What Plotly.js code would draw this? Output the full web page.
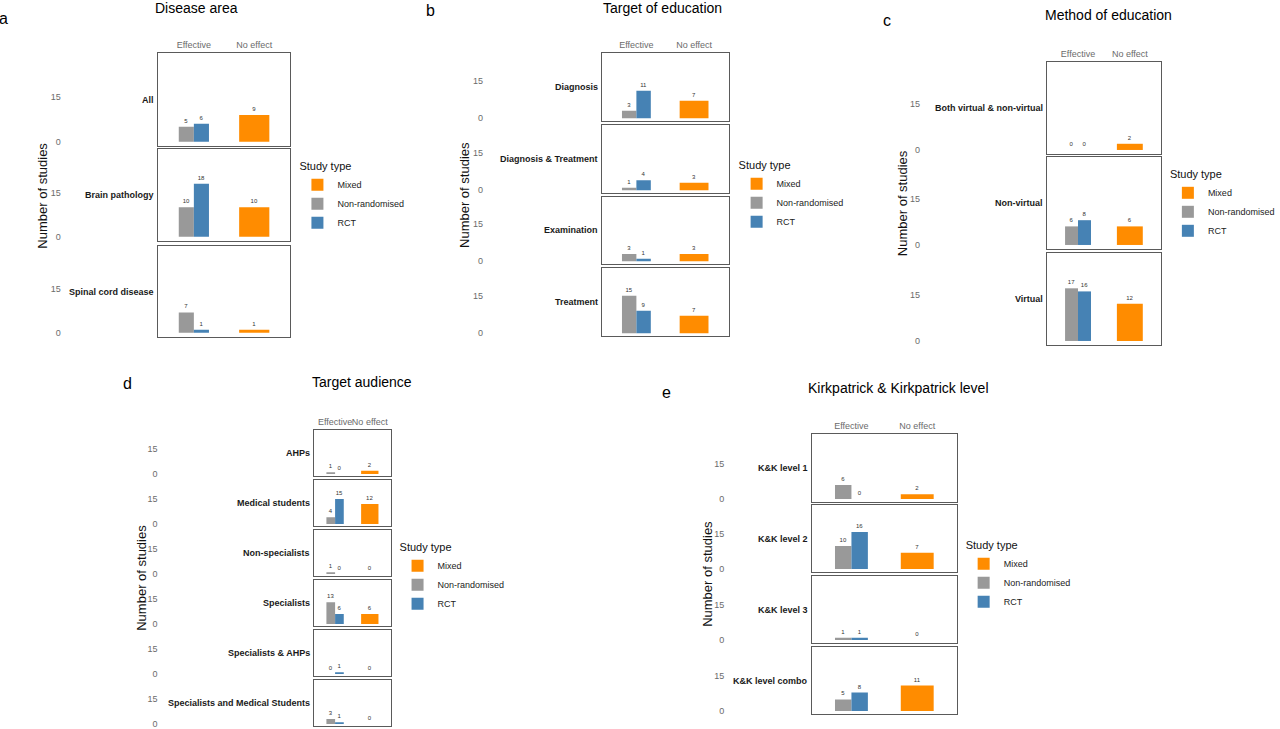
<!DOCTYPE html>
<html>
<head>
<meta charset="utf-8">
<script src="https://cdn.plot.ly/plotly-3.0.1.min.js"></script>
<style>html,body{margin:0;padding:0;background:#fff;}#chart{width:1280px;height:729px;}</style>
</head>
<body>
<div id="chart"></div>
<script>
// ---------- DATA ----------
const studyTypes = ['Mixed', 'Non-randomised', 'RCT'];
const outcomes = ['Effective', 'No effect'];
const yTickVals = [0, 15];
const yTickText = ['0', '15'];

// a: Disease area
const diseaseRows = ['All', 'Brain pathology', 'Spinal cord disease'];
const diseaseMixed = [9, 10, 1];
const diseaseNonRand = [5, 10, 7];
const diseaseRCT = [6, 18, 1];

// b: Target of education
const targetRows = ['Diagnosis', 'Diagnosis & Treatment', 'Examination', 'Treatment'];
const targetMixed = [7, 3, 3, 7];
const targetNonRand = [3, 1, 3, 15];
const targetRCT = [11, 4, 1, 9];

// c: Method of education
const methodRows = ['Both virtual & non-virtual', 'Non-virtual', 'Virtual'];
const methodMixed = [2, 6, 12];
const methodNonRand = [0, 6, 17];
const methodRCT = [0, 8, 16];

// d: Target audience
const audienceRows = ['AHPs', 'Medical students', 'Non-specialists', 'Specialists', 'Specialists & AHPs', 'Specialists and Medical Students'];
const audienceMixed = [2, 12, 0, 6, 0, 0];
const audienceNonRand = [1, 4, 1, 13, 0, 3];
const audienceRCT = [0, 15, 0, 6, 1, 1];

// e: Kirkpatrick & Kirkpatrick level
const kkRows = ['K&K level 1', 'K&K level 2', 'K&K level 3', 'K&K level combo'];
const kkMixed = [2, 7, 0, 11];
const kkNonRand = [6, 10, 1, 5];
const kkRCT = [0, 16, 1, 8];

// ---------- STYLE / LAYOUT GEOMETRY (pixels) ----------
const W = 1280, H = 729;
const FONT = 'Liberation Sans, Arial, Helvetica, sans-serif';
const colors = {'Mixed': '#FF8C00', 'Non-randomised': '#999999', 'RCT': '#4682B4'};

const panels = [
  {letter: 'a', title: 'Disease area', rows: diseaseRows, mixed: diseaseMixed, nonrand: diseaseNonRand, rct: diseaseRCT,
   box: [159, 293], facets: [[53, 146], [149, 241], [246, 337]], yr: [-1.45, 29.8], tickRight: 62,
   letterPos: [4, 19], titlePos: [198, 8], yTitlePos: [43, 196], legendPos: [310, 156]},
  {letter: 'b', title: 'Target of education', rows: targetRows, mixed: targetMixed, nonrand: targetNonRand, rct: targetRCT,
   box: [607, 735], facets: [[53, 121], [125, 193], [197, 264], [268, 336]], yr: [-1.1, 26.1], tickRight: 488,
   letterPos: [434, 10], titlePos: [668, 8], yTitlePos: [468, 195], legendPos: [753, 155]},
  {letter: 'c', title: 'Method of education', rows: methodRows, mixed: methodMixed, nonrand: methodNonRand, rct: methodRCT,
   box: [1056, 1171], facets: [[62, 154], [157, 249], [253, 345]], yr: [-1.3, 28.4], tickRight: 929,
   letterPos: [895, 21], titlePos: [1118, 15], yTitlePos: [910, 203], legendPos: [1188, 164]},
  {letter: 'd', title: 'Target audience', rows: audienceRows, mixed: audienceMixed, nonrand: audienceNonRand, rct: audienceRCT,
   box: [317, 394], facets: [[430, 476], [480, 526], [530, 576], [580, 626], [630, 676], [680, 726]], yr: [-1.2, 26.3], tickRight: 160,
   letterPos: [129, 383], titlePos: [365, 382], yTitlePos: [142, 578], legendPos: [411, 537]},
  {letter: 'e', title: 'Kirkpatrick & Kirkpatrick level', rows: kkRows, mixed: kkMixed, nonrand: kkNonRand, rct: kkRCT,
   box: [819, 965], facets: [[434, 502], [505, 572], [576, 643], [647, 714]], yr: [-1.3, 27.7], tickRight: 731,
   letterPos: [672, 392], titlePos: [906, 388], yTitlePos: [713, 574], legendPos: [982, 535]}
];

const px = v => v / W;
const py = v => 1 - v / H;

const data = [];
const layout = {
  width: W, height: H,
  margin: {l: 0, r: 0, t: 0, b: 0},
  paper_bgcolor: '#ffffff', plot_bgcolor: '#ffffff',
  barmode: 'overlay',
  hovermode: false,
  font: {family: FONT, color: '#222'},
  annotations: [],
  showlegend: true
};

let axisNum = 0;
panels.forEach((p, pi) => {
  const legendId = pi === 0 ? 'legend' : 'legend' + (pi + 1);
  layout[legendId] = {
    x: px(p.legendPos[0] - 10), y: py(p.legendPos[1]), xanchor: 'left', yanchor: 'top',
    title: {text: 'Study type', font: {size: 11, family: FONT, color: '#111'}},
    font: {size: 9, family: FONT, color: '#222'},
    bgcolor: 'rgba(0,0,0,0)', itemwidth: 30, tracegroupgap: 0, traceorder: 'normal'
  };

  p.rows.forEach((row, ri) => {
    axisNum += 1;
    const xa = axisNum === 1 ? 'x' : 'x' + axisNum;
    const ya = axisNum === 1 ? 'y' : 'y' + axisNum;
    const xKey = axisNum === 1 ? 'xaxis' : 'xaxis' + axisNum;
    const yKey = axisNum === 1 ? 'yaxis' : 'yaxis' + axisNum;
    const [top, bottom] = p.facets[ri];
    const isTop = ri === 0;

    layout[xKey] = {
      domain: [px(p.box[0]), px(p.box[1])], anchor: ya,
      type: 'category', categoryorder: 'array', categoryarray: outcomes,
      range: [-0.6, 1.6], fixedrange: true,
      showgrid: false, zeroline: false, ticks: '',
      showline: true, mirror: true, linecolor: '#5a5a5a', linewidth: 1,
      side: 'top', showticklabels: isTop, tickangle: 0,
      tickfont: {size: 9, family: FONT, color: '#6b6b6b'}
    };
    layout[yKey] = {
      domain: [py(bottom), py(top)], anchor: xa,
      range: p.yr, fixedrange: true,
      tickvals: yTickVals, ticktext: yTickText,
      showgrid: false, zeroline: false, ticks: '',
      showline: true, mirror: true, linecolor: '#5a5a5a', linewidth: 1,
      tickfont: {size: 9, family: FONT, color: '#6b6b6b'},
      ticklabeloverflow: 'allow',
      ticklabelstandoff: p.box[0] - p.tickRight - 3
    };

    const common = {
      type: 'bar', xaxis: xa, yaxis: ya,
      textposition: 'outside', texttemplate: '%{y}',
      textfont: {size: 6, family: FONT, color: '#333'},
      cliponaxis: false, constraintext: 'none',
      legend: legendId, showlegend: isTop
    };
    data.push(Object.assign({}, common, {
      name: studyTypes[0], x: [outcomes[1]], y: [p.mixed[ri]],
      width: 0.5, offset: -0.25, marker: {color: colors['Mixed']}
    }));
    data.push(Object.assign({}, common, {
      name: studyTypes[1], x: [outcomes[0]], y: [p.nonrand[ri]],
      width: 0.25, offset: -0.25, marker: {color: colors['Non-randomised']}
    }));
    data.push(Object.assign({}, common, {
      name: studyTypes[2], x: [outcomes[0]], y: [p.rct[ri]],
      width: 0.25, offset: 0, marker: {color: colors['RCT']}
    }));

    // row (facet) label
    layout.annotations.push({
      text: '<b>' + row.replace(/&/g, '&amp;') + '</b>',
      xref: 'paper', x: px(p.box[0] - 2), xanchor: 'right',
      yref: ya + ' domain', y: 0.5, yanchor: 'middle',
      showarrow: false, font: {size: 9, family: FONT, color: '#1a1a1a'}
    });
  });

  // panel letter
  layout.annotations.push({
    text: p.letter, xref: 'paper', yref: 'paper',
    x: px(p.letterPos[0]), y: py(p.letterPos[1]), xanchor: 'center', yanchor: 'middle',
    showarrow: false, font: {size: 16, family: FONT, color: '#000'}
  });
  // panel title
  layout.annotations.push({
    text: p.title.replace(/&/g, '&amp;'), xref: 'paper', yref: 'paper',
    x: px(p.titlePos[0]), y: py(p.titlePos[1]), xanchor: 'center', yanchor: 'middle',
    showarrow: false, font: {size: 14, family: FONT, color: '#000'}
  });
  // y title
  layout.annotations.push({
    text: 'Number of studies', xref: 'paper', yref: 'paper', textangle: -90,
    x: px(p.yTitlePos[0]), y: py(p.yTitlePos[1]), xanchor: 'center', yanchor: 'middle',
    showarrow: false, font: {size: 13, family: FONT, color: '#111'}
  });
});

Plotly.newPlot('chart', data, layout, {displayModeBar: false, staticPlot: true});
</script>
</body>
</html>
